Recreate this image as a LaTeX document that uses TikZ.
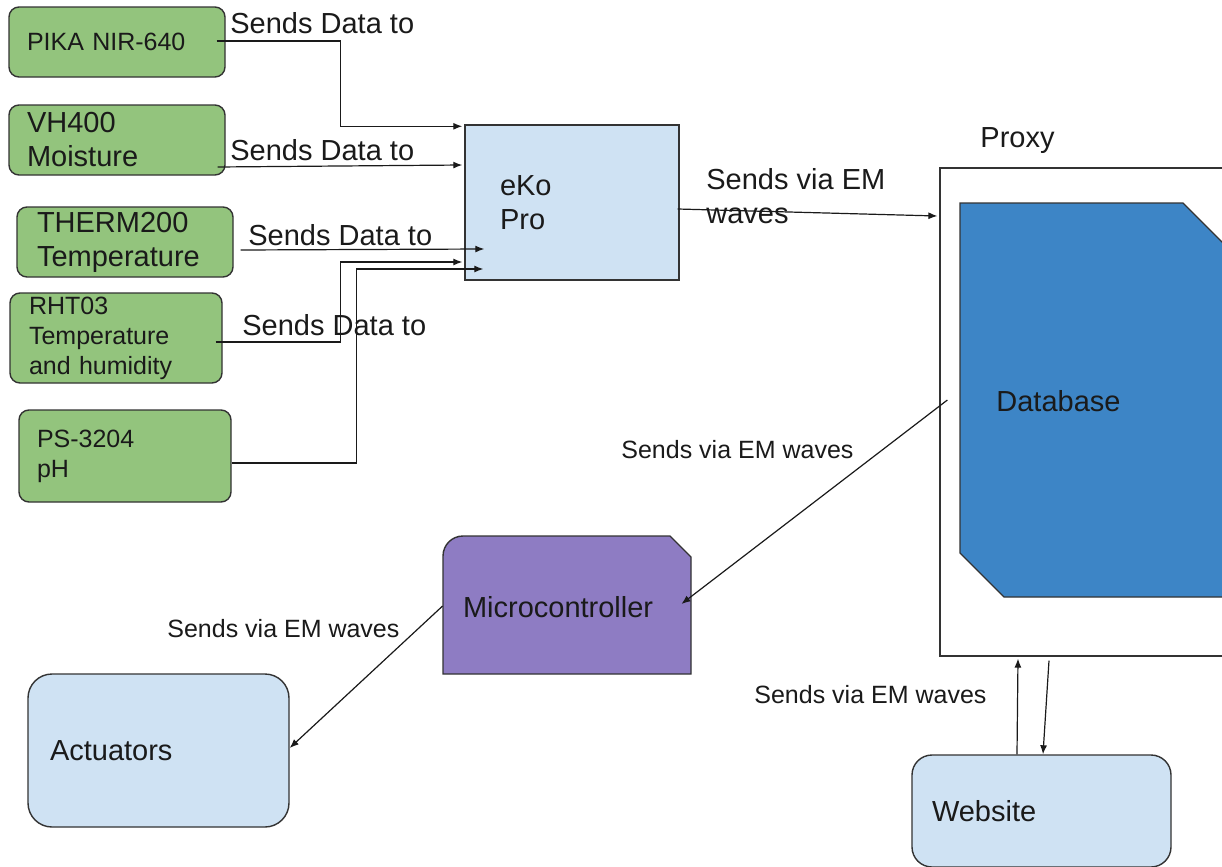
\documentclass[tikz,border=0pt]{standalone}
\usepackage{fontspec}
\setmainfont{Liberation Sans}
\usetikzlibrary{arrows.meta,calc}
\definecolor{sgreen}{HTML}{93C47D}
\definecolor{lblue}{HTML}{CFE2F3}
\definecolor{dbblue}{HTML}{3D85C6}
\definecolor{mpurple}{HTML}{8E7CC3}
\definecolor{edgec}{HTML}{333333}
\definecolor{ink}{HTML}{1A1A1A}
\newcommand\fbig{\fontsize{14.5pt}{17pt}\selectfont}
\newcommand\fsmall{\fontsize{12.5pt}{15pt}\selectfont}
\begin{document}
\begin{tikzpicture}[x=0.5pt,y=-0.5pt,
  sensor/.style={draw=edgec, line width=0.7pt, fill=sgreen, rounded corners=5pt, align=left, inner xsep=9pt, inner ysep=0pt, text=ink},
  boxnode/.style={draw=edgec, line width=0.7pt, fill=lblue, align=left, inner ysep=0pt, text=ink},
  conn/.style={draw=ink, line width=0.6pt},
  arr/.style={conn, -{Latex[length=4.5pt,width=3.5pt]}},
  lbl/.style={anchor=base west, inner sep=0pt, text=ink},
]
\useasboundingbox (0,0) rectangle (1222,867);
\fill[white] (0,0) rectangle (1222,867);
\clip (0,0) rectangle (1222,867);

% sensors
\node[sensor, minimum width=108pt, minimum height=35pt, text width=90pt, font=\fsmall] (pika) at (117,42) {PIKA NIR-640};
\node[sensor, minimum width=108pt, minimum height=35pt, text width=90pt, font=\fbig] (vh) at (117,140) {VH400\\Moisture};
\node[sensor, minimum width=108pt, minimum height=35pt, text width=88pt, inner xsep=10pt, font=\fbig] (therm) at (125,242) {THERM200\\Temperature};
\node[sensor, minimum width=106pt, minimum height=45pt, text width=87pt, inner xsep=9.5pt, font=\fsmall] (rht) at (116,338) {RHT03\\Temperature\\and humidity};
\node[sensor, minimum width=106pt, minimum height=46pt, text width=88pt, font=\fsmall] (ps) at (125,456) {PS-3204\\pH};

% eKo Pro
\node[boxnode, minimum width=107pt, minimum height=77.5pt, text width=72pt, inner xsep=17.5pt, font=\fbig] (eko) at (572,202.5) {eKo\\Pro};

% Proxy and database
\node[draw=edgec, line width=0.6pt, fill=white, minimum width=150pt, minimum height=244pt] (proxy) at (1090,412) {};
\filldraw[fill=dbblue, draw=edgec, line width=0.7pt] (960,203) -- (1183,203) -- (1227,247) -- (1227,597) -- (1004,597) -- (960,553) -- cycle;
\node[lbl, anchor=west, font=\fbig] (db) at (996,401) {Database};
\node[lbl, font=\fbig] (proxylbl) at (980,147) {Proxy};

% Microcontroller
\filldraw[fill=mpurple, draw=edgec, line width=0.7pt] (443,674) -- (443,556) arc[start angle=180, end angle=90, radius=10pt] -- (670,536) -- (691,557) -- (691,674) -- cycle;
\node[align=left, minimum width=124pt, minimum height=69pt, text width=104pt, inner xsep=10pt, inner ysep=0pt, font=\fbig, text=ink] (micro) at (567,607) {Microcontroller};

% Actuators and Website
\node[boxnode, rounded corners=12pt, minimum width=130.5pt, minimum height=76.5pt, text width=108.5pt, inner xsep=11pt, font=\fbig] (act) at (158.5,750.5) {Actuators};
\node[boxnode, rounded corners=10pt, minimum width=129.5pt, minimum height=56pt, text width=109.5pt, inner xsep=10pt, font=\fbig] (web) at (1041.5,811) {Website};

% labels
\node[lbl, font=\fbig] (t1) at (230,33) {Sends Data to};
\node[lbl, font=\fbig] (t2) at (230,160) {Sends Data to};
\node[lbl, font=\fbig] (t3) at (248,245) {Sends Data to};
\node[lbl, font=\fbig] (t4) at (242,335) {Sends Data to};
\node[lbl, anchor=north west, font=\fbig, align=left] (t5) at (706,168) {Sends via EM\\waves};
\node[lbl, font=\fsmall] (t6) at (621,458) {Sends via EM waves};
\node[lbl, font=\fsmall] (t7) at (167,637) {Sends via EM waves};
\node[lbl, font=\fsmall] (t8) at (754,703) {Sends via EM waves};

% connectors: sensors -> eKo
\draw[arr] ([xshift=-4.5pt,yshift=0.5pt]pika.east) -| ([xshift=-62pt,yshift=-1pt]eko.north west) -- ([xshift=-1pt,yshift=-1pt]eko.north west);
\draw[arr] ([xshift=-4pt,yshift=-13.5pt]vh.east) -- ([xshift=-1pt,yshift=18.75pt]eko.west);
\draw[arr] ([xshift=3.5pt,yshift=-4pt]therm.east) -- ([xshift=10pt,yshift=-23.25pt]eko.west);
\draw[arr] ([xshift=-3.5pt,yshift=-2pt]rht.east) -| ([xshift=-62pt,yshift=-29.75pt]eko.west) -- ([xshift=-1pt,yshift=-29.75pt]eko.west);
\draw[arr] ([yshift=-3.5pt]ps.east) -| ([xshift=-54pt,yshift=-33.25pt]eko.west) -- ([xshift=9.5pt,yshift=-33.25pt]eko.west);

% eKo -> proxy
\draw[arr] ([xshift=-1pt,yshift=-3.25pt]eko.east) -- ([xshift=-1pt,yshift=98pt]proxy.west);
% proxy -> microcontroller
\draw[arr] ([xshift=4pt,yshift=6pt]proxy.west) -- ([xshift=-5pt,yshift=1.5pt]micro.east);
% microcontroller -> actuators
\draw[arr] ([yshift=0.5pt]micro.west) -- ([yshift=1.25pt]act.east);
% website <-> proxy
\draw[arr] ([xshift=-12.25pt]web.north) -- ([xshift=-36pt,yshift=-1pt]proxy.south);
\draw[arr] ([xshift=-20.5pt,yshift=-2pt]proxy.south) -- ([xshift=0.75pt]web.north);
\end{tikzpicture}
\end{document}
